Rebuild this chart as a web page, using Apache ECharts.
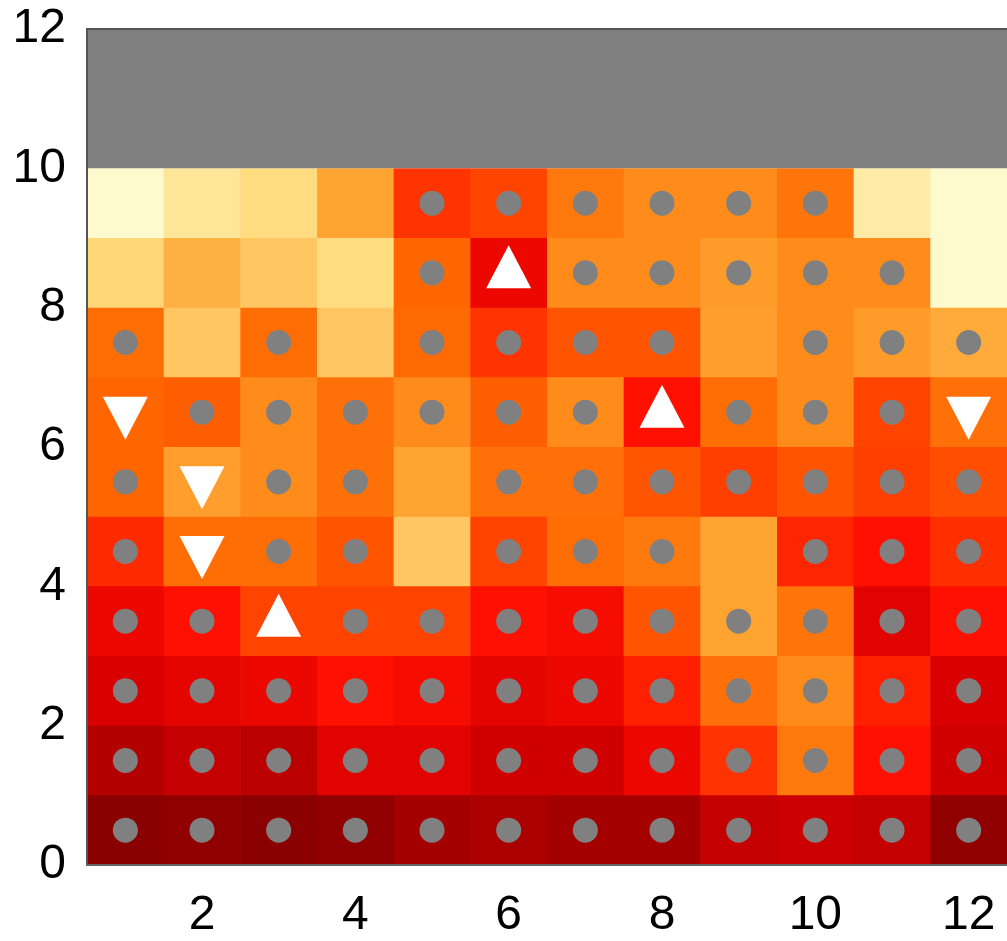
<!DOCTYPE html>
<html>
<head>
<meta charset="utf-8">
<title>Heatmap</title>
<script src="https://cdn.jsdelivr.net/npm/echarts@6/dist/echarts.min.js"></script>
<style>
  html, body { margin: 0; padding: 0; background: #fff; }
  #chart { width: 1007px; height: 941px; }
</style>
</head>
<body>
<div id="chart"></div>
<script>
// column centres along x
const columns = [1, 2, 3, 4, 5, 6, 7, 8, 9, 10, 11, 12]
// lower edge of each row, listed top to bottom
const rowBottoms = [9, 8, 7, 6, 5, 4, 3, 2, 1, 0]

// cell values (0 = dark red, 1 = pale yellow), one line per row, top to bottom
const cellValues = [
  [1.00, 0.93, 0.90, 0.79, 0.47, 0.50, 0.65, 0.70, 0.70, 0.64, 0.95, 1.00],
  [0.89, 0.82, 0.86, 0.90, 0.60, 0.35, 0.70, 0.70, 0.76, 0.70, 0.70, 1.00],
  [0.62, 0.86, 0.62, 0.86, 0.61, 0.47, 0.55, 0.55, 0.77, 0.70, 0.76, 0.81],
  [0.60, 0.58, 0.70, 0.63, 0.70, 0.58, 0.70, 0.40, 0.62, 0.70, 0.50, 0.63],
  [0.60, 0.77, 0.70, 0.63, 0.79, 0.63, 0.63, 0.55, 0.49, 0.55, 0.49, 0.53],
  [0.45, 0.62, 0.62, 0.55, 0.86, 0.50, 0.62, 0.65, 0.79, 0.44, 0.40, 0.46],
  [0.35, 0.40, 0.50, 0.50, 0.50, 0.40, 0.38, 0.55, 0.79, 0.64, 0.32, 0.40],
  [0.30, 0.33, 0.35, 0.40, 0.38, 0.33, 0.35, 0.43, 0.63, 0.70, 0.43, 0.30],
  [0.15, 0.22, 0.18, 0.32, 0.32, 0.27, 0.27, 0.35, 0.47, 0.65, 0.40, 0.27],
  [0.00, 0.02, 0.00, 0.02, 0.10, 0.12, 0.10, 0.10, 0.22, 0.25, 0.22, 0.02]
]

// o = grey dot, ^ = triangle up, v = triangle down, . = nothing
const markerRows = [
  '....oooooo..',
  '....o^ooooo.',
  'o.o.oooo.ooo',
  'voooooo^ooov',
  'ovoo.ooooooo',
  'ovoo.ooo.ooo',
  'oo^ooooooooo',
  'oooooooooooo',
  'oooooooooooo',
  'oooooooooooo'
]

// y range with no data (grey band)
const maskedBand = [10, 12]

const xTickLabels = [2, 4, 6, 8, 10, 12]
const yTickLabels = [0, 2, 4, 6, 8, 10, 12]

const colorScale = [
  '#8b0000', '#a50000', '#c00000', '#d80000', '#ff1000', '#ff4400',
  '#ff6600', '#ff8c1a', '#ffa533', '#ffdc80', '#fffacd'
]

const cells = []
const dots = []
const upMarks = []
const downMarks = []
rowBottoms.forEach((yb, r) => {
  columns.forEach((c, i) => {
    cells.push([c, yb, cellValues[r][i]])
    const m = markerRows[r][i]
    const pt = [c, yb + 0.5]
    if (m === 'o') dots.push(pt)
    else if (m === '^') upMarks.push(pt)
    else if (m === 'v') downMarks.push(pt)
  })
})

const xMin = columns[0] - 0.5
const xMax = columns[columns.length - 1] + 0.5

const chart = echarts.init(document.getElementById('chart'))

const labelFont = {
  color: '#000',
  fontSize: 48,
  fontFamily: '"Liberation Sans", Arial, sans-serif'
}

chart.setOption({
  animation: false,
  grid: { left: 87, right: -4, top: 29, bottom: 76 },
  visualMap: {
    show: false,
    type: 'continuous',
    min: 0,
    max: 1,
    dimension: 2,
    seriesIndex: 0,
    inRange: { color: colorScale }
  },
  xAxis: [{
    type: 'value',
    min: xMin,
    max: xMax,
    z: 10,
    splitLine: { show: false },
    axisTick: { show: false },
    axisLine: { show: true, lineStyle: { color: '#666', width: 2 } },
    axisLabel: Object.assign({ customValues: xTickLabels, margin: 27 }, labelFont)
  }, {
    type: 'value',
    position: 'top',
    min: xMin,
    max: xMax,
    z: 10,
    splitLine: { show: false },
    axisTick: { show: false },
    axisLabel: { show: false },
    axisLine: { show: true, lineStyle: { color: '#555', width: 2 } }
  }],
  yAxis: {
    type: 'value',
    min: yTickLabels[0],
    max: yTickLabels[yTickLabels.length - 1],
    interval: 2,
    z: 10,
    splitLine: { show: false },
    axisTick: { show: false },
    axisLine: { show: true, lineStyle: { color: '#555', width: 2 } },
    axisLabel: Object.assign({ margin: 21 }, labelFont)
  },
  series: [{
    type: 'custom',
    data: cells,
    encode: { x: 0, y: 1 },
    renderItem: (params, api) => {
      const x0 = api.value(0) - 0.5
      const y0 = api.value(1)
      const p1 = api.coord([x0, y0 + 1])
      const p2 = api.coord([x0 + 1, y0])
      return {
        type: 'rect',
        shape: { x: p1[0], y: p1[1], width: p2[0] - p1[0] + 0.6, height: p2[1] - p1[1] + 0.6 },
        style: { fill: api.visual('color') }
      }
    }
  }, {
    type: 'custom',
    data: [maskedBand],
    renderItem: (params, api) => {
      const p1 = api.coord([xMin, api.value(1)])
      const p2 = api.coord([xMax, api.value(0)])
      return {
        type: 'rect',
        shape: { x: p1[0], y: p1[1], width: p2[0] - p1[0], height: p2[1] - p1[1] },
        style: { fill: '#808080' }
      }
    },
    encode: { y: [0, 1] }
  }, {
    type: 'scatter',
    data: dots,
    symbol: 'circle',
    symbolSize: 25,
    itemStyle: { color: '#808080', opacity: 1 },
    z: 5
  }, {
    type: 'scatter',
    data: upMarks,
    symbol: 'triangle',
    symbolSize: [45, 43],
    symbolOffset: [0, -6],
    itemStyle: { color: '#fff', opacity: 1 },
    z: 5
  }, {
    type: 'scatter',
    data: downMarks,
    symbol: 'path://M0,0L2,0L1,2Z',
    symbolSize: [45, 43],
    symbolOffset: [0, 6],
    itemStyle: { color: '#fff', opacity: 1 },
    z: 5
  }]
})
</script>
</body>
</html>
